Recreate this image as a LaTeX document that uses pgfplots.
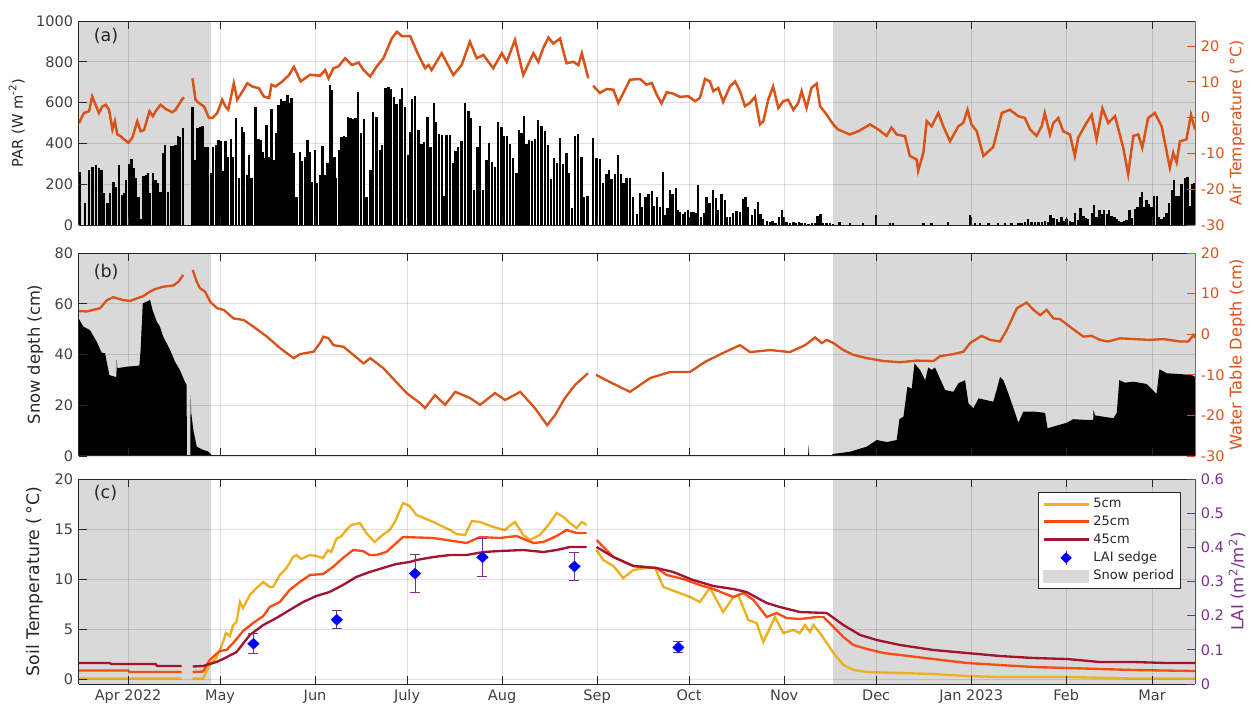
\documentclass[border=0pt]{standalone}
\usepackage{fontspec}
\setmainfont{DejaVu Sans}
\usepackage{pgfplots}
\pgfplotsset{compat=1.18}
\definecolor{snowgray}{RGB}{217,217,217}
\definecolor{mlorange}{RGB}{217,83,25}
\definecolor{axgray}{RGB}{38,38,38}
\definecolor{tickgray}{RGB}{64,64,64}
\definecolor{c5}{RGB}{237,177,32}
\definecolor{c25}{RGB}{250,75,20}
\definecolor{c45}{RGB}{162,20,47}
\definecolor{laipurple}{RGB}{126,47,142}
\pgfplotsset{
  panel/.style={scale only axis, width=669.6pt, xmin=-16, xmax=348,
    xtick={0,30,61,91,122,153,183,214,244,275,306,334},
    tick align=inside, major tick length=5pt,
    /pgf/number format/assume math mode=true,
    /pgf/number format/1000 sep={},
    ticklabel style={font=\fontsize{8.7}{10}\selectfont, text=tickgray},
    every tick/.style={axgray, line width=0.5pt},
    axis line style={axgray, line width=0.6pt},
    unbounded coords=jump},
  leftax/.style={panel, axis x line=box, axis y line*=left, xmajorgrids, ymajorgrids,
    grid style={black, opacity=0.12, line width=0.5pt}, axis on top, ylabel near ticks,
    ylabel style={text=axgray}},
  rightax/.style={panel, axis x line=none, axis y line*=right, yticklabel pos=right, ylabel near ticks, ylabel shift=-4pt},
  orangeax/.style={y axis line style={mlorange}, ytick style={mlorange}, yticklabel style={text=mlorange}, ylabel style={text=mlorange}},
}
\begin{document}
\begin{tikzpicture}
\useasboundingbox (0,0) rectangle (750.6pt,-424.2pt);
% ---------------- panel (a)
\begin{axis}[leftax, at={(47.4pt,-12.6pt)}, anchor=north west, height=122.4pt,
  ymin=0, ymax=1000, ytick={0,200,...,1000}, xticklabels={},
  ylabel={PAR (W m\textsuperscript{-2})}, label style={font=\fontsize{8.8}{10}\selectfont}]
\addplot[fill=snowgray, draw=none] coordinates {(-16,-10) (-16,1010) (27.1,1010) (27.1,-10)} --cycle;
\addplot[fill=snowgray, draw=none] coordinates {(229.9,-10) (229.9,1010) (348,1010) (348,-10)} --cycle;
\addplot[ycomb, black, line width=1.4pt] coordinates {
(-15.6,261) (-14,108) (-12.7,270) (-11.6,286) (-10.5,294) (-9.5,278) (-8.7,270) (-7.8,158) (-6.7,106) (-5.9,155) (-4.8,212) (-4,188) (-2.9,292) (-2,147) (-1.3,155) (-0.6,220) (0.3,297) (1.1,322) (2,278) (2.6,229) (3.4,139) (4.1,28) (5,240) (5.8,245) (6.5,253) (7.2,155) (8.2,257) (9,220) (9.8,204) (10.6,163) (11.3,355) (12.1,390) (13.1,160) (13.9,387) (14.8,387) (15.5,392) (16.3,436) (17,430) (17.9,474)
(21,580) (21.8,319) (22.6,474) (23.4,482) (24.3,487) (25.1,384) (25.9,380) (27,257) (27.8,384) (28.6,392) (29.5,417) (30.3,413) (31.1,267) (31.8,412) (32.6,335) (33.5,420) (34.2,335) (35.1,523) (36.2,229) (37.1,482) (37.8,457) (38.7,245) (39.5,345) (40.3,229) (41.6,580) (42.5,420) (43.3,417) (44,359) (44.6,327) (45.2,490) (46,335) (46.8,569) (47.6,319) (48.4,449) (49.1,588) (49.8,616) (50.5,608) (51.2,610) (52,637) (52.6,596) (53.3,625) (54.1,351) (54.9,139) (56,359) (56.8,314) (57.7,335) (58.5,417) (59.2,359) (60.1,212) (61,367) (61.7,204) (62.5,245) (63.4,387) (64.2,245) (65,306) (65.8,686) (66.6,662) (67.3,335) (67.9,232) (68.8,367) (69.6,433) (70.4,436) (71.1,433) (71.8,528) (72.6,523) (73.4,518) (74.2,523) (75,653)
(76,450) (77,518) (77.8,139) (79.1,270) (80,556) (81,528) (82.2,368) (82.9,391) (84,670) (84.9,675) (85.7,665) (86.8,626) (87.6,593) (88.7,616) (89.4,670) (90.3,580) (91.2,343) (92,455) (92.7,616) (93.6,632) (94.7,466) (95.7,397) (96.6,409) (97.7,528) (98.7,381) (99.8,596) (100.5,507) (101.5,446) (102.3,441) (103.1,142) (103.9,441) (105,441) (106.1,302) (106.8,364) (107.7,381) (108.8,413) (109.9,600) (111,560) (111.8,523) (112.9,172) (114,381) (114.8,485) (115.8,172) (116.9,319) (117.8,404) (118.6,311) (119.7,283) (120.7,507) (121.8,482) (122.7,436) (123.5,436) (124.5,397) (125.6,327) (126.7,257) (127.5,466) (128.3,453) (129.1,535) (130,397) (130.7,417) (131.8,413) (132.7,420) (133.8,515) (134.9,485) (136,462) (137,392) (137.9,225) (138.9,327) (139.8,306) (140.8,425) (141.9,300) (143,353) (143.8,257) (144.9,82) (145.7,436) (146.8,446) (147.9,335) (148.8,135) (149.9,142)
(151.7,425) (152.8,327) (153.9,322) (155,206) (156.1,251) (156.8,270) (157.7,226) (158.8,251) (159.9,343) (160.7,251) (161.6,206) (162.6,232) (163.7,232) (164.8,139) (165.9,54) (167,155) (167.7,90) (168.8,139) (169.7,150) (170.8,167) (171.5,93) (172.6,139) (173.5,90) (174.4,261) (175.1,49) (176,82) (176.7,172) (177.6,152) (178.7,180) (179.3,74) (180,65) (180.9,54) (181.6,65) (182.7,74) (183.6,65) (184.4,65) (185.1,60) (186,196) (186.9,41) (187.8,57) (188.7,136) (189.6,106) (190.7,172) (191.7,131) (192.5,74) (193.6,150) (194.7,123) (195.4,41) (196.3,41) (197.4,60) (198.5,70) (199.6,65) (200.7,126) (201.4,139) (202.3,90) (203.4,49) (204.5,77) (205.5,114) (206.3,54) (207.2,28) (208.3,21) (209.4,16) (210.2,21) (211.2,11) (212.3,41) (213.2,74) (214,41) (214.8,16) (215.9,11) (217,16) (217.8,8) (218.8,16) (219.7,8) (220.8,8) (221.9,5) (223,8) (224,8) (224.9,44) (225.9,54) (226.7,11) (227.8,8) (228.9,8) (230,5) (232,16) (235.4,8) (239.8,8) (243.9,49) (248.5,8) (249.6,8)
(259.4,8) (262.1,8) (267.5,13) (274.6,49) (276.2,8) (277.9,8) (280.6,8) (283.8,8) (286,8) (288.2,8) (290.4,11) (291.4,11) (292.5,16) (293.6,28) (294.7,16) (295.8,13) (296.9,16) (298,13) (299,20) (300.1,16) (300.9,49) (301.8,33) (302.9,28) (303.6,16) (304.5,41) (305.4,21) (306.1,28) (307.2,21) (308,16) (308.8,60) (309.9,25) (310.7,82) (311.6,44) (312.4,33) (313.2,28) (314.3,57) (315,98) (315.9,41) (316.8,74) (317.5,54) (318.3,74) (319.2,54) (319.9,74) (320.8,46) (321.7,41) (322.4,28) (323.3,21) (324,16) (324.9,21) (325.7,25) (326.6,74) (327.3,33) (328.4,77) (329.2,90) (330,139) (330.8,163) (331.4,90) (332.2,123) (333,103) (333.8,90) (334.7,144) (335.5,144) (336.2,38) (337.1,28) (338,41) (338.7,60) (339.5,110) (340.4,172) (341.2,221) (342,142) (342.7,142) (343.6,201) (344.7,229) (345.6,234) (346.3,93) (347.1,201) (347.7,204)
};
\node[anchor=west, font=\fontsize{10.5}{12}\selectfont, text=axgray] at (rel axis cs:0.008,0.926) {(a)};
\end{axis}
\begin{axis}[rightax, orangeax, at={(47.4pt,-12.6pt)}, anchor=north west, height=122.4pt,
  ymin=-30, ymax=27, ytick={-30,-20,...,20}, ylabel={Air Temperature (\,°C)},
  label style={font=\fontsize{9.4}{11}\selectfont}]
\addplot[mlorange, line width=1.5pt] coordinates {
(-16,-1.5) (-14.4,1.3) (-12.7,1.8) (-11.7,5.9) (-10.6,3.6) (-9.5,1.3) (-8.4,3.1) (-7.3,3.6) (-6.2,2.2) (-5.1,-3.3) (-4.3,-1) (-3.5,-4.7) (-2.4,-5.2) (-1.3,-6.1) (0.1,-7) (1.4,-5.6) (3,-1) (4.1,-3.8) (5.2,-3.5) (7,1.8) (8.1,0.4) (9,1.8) (10.6,3.6) (12.3,2.4) (14.4,1.5) (15.5,2.2) (17.7,5.2) (18.3,5.6) (19.5,nan)
(21,11) (22,5) (23.1,4.1) (24.8,3.1) (26.4,-0.1) (27.5,-0.1) (29.1,1.3) (30.7,5) (31.8,3.1) (32.7,2.2) (34.5,9.6) (35.6,5) (37.3,7.3) (38.9,9.6) (40.5,8.7) (42.7,8.2) (44.3,5.9) (46,5.5) (46.8,9.2) (48.1,8.7) (50.3,10.1) (52.5,11.9) (54.1,14.2) (56.3,10.1) (59.4,12) (62.6,11.7) (64.3,13.3) (65.4,11) (67,13.8) (68.6,14.3) (70.8,16.6) (73,14.7) (75.2,15.4) (76.8,13.3) (79,11.5) (81.1,14.3) (83.3,16.6) (86,22.1) (87.7,24) (89.3,22.8) (92,22.8) (94.7,17.5) (96.9,13.8) (98,14.7) (99,13.3) (102.3,18) (106.1,11.9) (108.8,14.7) (111.5,21.2) (113.7,16.6) (115.9,17.5) (119.1,13.8) (121.9,18) (123.5,15.6) (126.2,21.7) (128.9,11.9) (132.2,18) (133.8,15.6) (135.4,19.4) (137.1,22.4) (138.7,20.7) (140.9,22.1) (143,15.2) (145.2,15.6) (146.9,14.7) (148,18) (149,14.7) (150.1,11) (150.9,nan)
(151.7,8.9) (153.9,6.9) (156.1,8) (158.3,7.8) (159.9,4.1) (163.7,10.6) (167,10.8) (169.1,9.2) (170.8,9.7) (172.4,6.5) (174,4) (175.7,7.1) (177.8,6.7) (180,5.8) (182.7,6) (184.9,4.6) (186.5,5.5) (188.2,10.8) (189.8,10.1) (190.9,7.4) (192.5,8.3) (194.1,4.4) (196.3,8.7) (198,10.1) (199.6,7.4) (201.2,3.2) (202.8,4.1) (204.5,5.8) (206.1,-1.9) (207.2,-1) (208.8,5) (210.4,8.7) (212.1,2.7) (213.7,4.6) (215.3,5) (217,2.2) (218.6,4.1) (219.7,7.4) (221.3,2.7) (222.9,8.3) (224.6,9.5) (225.7,3.2) (227.8,0.9) (230,-1.9) (231.6,-3.3) (235.4,-4.7) (238.2,-3.8) (242,-1.9) (244.7,-3.3) (247.4,-5.1) (249,-2.8) (250.7,-4.7) (253.4,-5.2) (255,-10.7) (257.2,-11.7) (257.7,-14.9) (259.4,-9.8) (260.5,-1) (262.1,-2.4) (264.3,1.3) (265.9,-2.4) (268.1,-6.6) (270.8,-2.4) (272.4,-1.5) (273.8,2.2) (275.1,-1.9) (276.8,-3.8) (279,-10.7) (282.2,-8.2) (285,1.3) (287.6,2.2) (290.4,0.4) (292.5,-0.1) (294.2,-3.3) (296.3,-5.1) (298,-2.4) (299,1.3) (300.7,-4.7) (301.8,-1.5) (303.4,-0.1) (305,-3.8) (307.2,-4.7) (308.8,-10.7) (309.9,-5.6) (312.6,-1.5) (314.3,0.8) (315.9,-6.1) (317.8,2.6) (319.7,-1.5) (321.9,0.4) (324.6,-8.4) (326.2,-15.8) (327.9,-5.1) (329.5,-4.7) (330.8,-8.4) (332.7,-0.1) (334.9,1.3) (337.1,-2.4) (339.8,-14) (340.9,-9.8) (342,-12.5) (343.1,-6.6) (345.2,-6.1) (346.7,0.8) (348,-3.3)
};
\end{axis}
% ---------------- panel (b)
\begin{axis}[leftax, at={(47.4pt,-151.8pt)}, anchor=north west, height=121.8pt,
  ymin=0, ymax=80, ytick={0,20,...,80}, xticklabels={},
  ylabel={Snow depth (cm)}, label style={font=\fontsize{9.8}{11}\selectfont}]
\addplot[fill=snowgray, draw=none] coordinates {(-16,-10) (-16,90) (27.1,90) (27.1,-10)} --cycle;
\addplot[fill=snowgray, draw=none] coordinates {(229.9,-10) (229.9,90) (348,90) (348,-10)} --cycle;
\addplot[fill=black, draw=none] coordinates {
(-16,0) (-16,54) (-14.6,51) (-12.4,49.6) (-10.2,45) (-8.6,40.7) (-7.5,40.5) (-6.1,31.9) (-4.2,31.2) (-3.8,31.2) (-3.7,38) (-3.5,34.6) (-0.4,35.2) (2.8,35.5) (3.7,35.7) (4.1,41.8) (4.8,60.2) (6.1,60.8) (7.2,61.5) (8,57.5) (9.4,52.9) (10.4,51) (11.5,47) (13.7,41.8) (15.3,37.2) (16.9,33.9) (18.3,29.9) (19.1,28) (19.2,0) (20.3,0) (20.4,24) (20.6,17) (21.3,10.2) (22.4,3.7) (24.5,2.4) (26.1,1.8) (27.2,0.5) (27.4,0) (221.8,0) (222,4.3) (222.2,0) (229,0) (230,0.8) (235.5,1.7) (241,3.7) (244.2,6.3) (247.5,5.5) (250.7,6.3) (251.6,14.5) (252.9,15.5) (254.2,27.3) (255.6,26.5) (256.5,36.5) (258.3,33.9) (260,29.9) (261,34.9) (262.1,33.9) (263.2,34.9) (264.3,31.9) (266.5,26) (269.2,25.3) (270.8,28.6) (273,29.9) (274.1,20.8) (275.7,18.8) (277.4,22.7) (280,22) (282.2,21.4) (283.3,26) (284.4,31.2) (285.5,29.9) (287.1,24.7) (288.8,18.8) (290.4,13.1) (292,17.5) (295.3,17.5) (299.1,17) (299.9,10.9) (301.8,11.6) (306.2,13.1) (308.3,14.5) (312.7,14.2) (314.8,14.2) (314.9,18.1) (315.4,16) (318.1,15.5) (321.4,14.9) (322.5,17) (323.3,29.9) (325.2,28.9) (327.9,29.3) (332.2,28.4) (335.3,24.7) (335.5,24.7) (336.4,34.2) (338.8,32.6) (343.1,32.3) (346.9,31.9) (348,31.2) (348,0)
} --cycle;
\node[anchor=west, font=\fontsize{10.5}{12}\selectfont, text=axgray] at (rel axis cs:0.008,0.908) {(b)};
\end{axis}
\begin{axis}[rightax, orangeax, at={(47.4pt,-151.8pt)}, anchor=north west, height=121.8pt,
  ymin=-30, ymax=20, ytick={-30,-20,...,20}, ylabel={Water Table Depth (cm)},
  label style={font=\fontsize{9.7}{11}\selectfont}]
\addplot[mlorange, line width=1.4pt] coordinates {
(-16,5.7) (-13.5,5.6) (-9.1,6.4) (-6.9,8.4) (-4.8,9.1) (-1.5,8.4) (0.7,8.2) (2.8,8.8) (5,9.4) (7.2,10.5) (8.8,11.1) (11.5,11.7) (14.8,12) (16.4,12.9) (18,14.6) (19.5,nan)
(21.1,15.8) (22.4,12.9) (23.5,11.3) (25.1,10.5) (26.8,8) (29,6.4) (31.2,6) (34.4,3.9) (37.7,3.5) (41,1.8) (45.3,-0.6) (49.7,-3.5) (54,-5.9) (56.1,-4.9) (60.5,-4.3) (62.6,-2.2) (63.7,-0.6) (65.4,-1.0) (67,-2.7) (70.3,-3.1) (73.5,-5.1) (76.8,-7.2) (79,-5.9) (83.3,-8.4) (91,-14.6) (95.3,-17) (96.9,-18.2) (100.1,-15) (103.4,-17.4) (106.7,-14.2) (111.5,-15.7) (114.8,-17.4) (119.7,-14.5) (123,-16.2) (127.9,-14.2) (132.7,-18.2) (136.7,-22.4) (139.3,-19.9) (142.5,-15.7) (145.8,-12.5) (150,-9.6) (151,nan)
(152.6,-10) (157.2,-11.8) (163.7,-14.2) (170.3,-10.8) (176.8,-9.3) (183.3,-9.3) (188.2,-6.8) (194.7,-4.4) (199.6,-2.7) (202.9,-4.4) (209.4,-3.9) (215.9,-4.4) (220.8,-2.7) (224.1,-0.8) (226.3,-2.2) (227.9,-1.4) (230.1,-2.2) (233.3,-3.9) (236.6,-5.1) (241,-5.9) (246.4,-6.6) (251.8,-6.9) (257.2,-6.5) (262.7,-6.6) (264.9,-5.4) (269.2,-4.9) (272.5,-4.3) (274.6,-2.2) (278.4,-0.4) (281.2,-1.4) (284.4,-1.8) (286.6,1) (289.9,6.4) (293.1,7.8) (295.3,6) (297.5,4.7) (299.6,6) (301.8,3.9) (304,3.7) (308.3,1.2) (311.6,-0.6) (314.3,-0.4) (317,-1.4) (319.7,-1.8) (323.5,-1) (327.9,-1.2) (333.3,-1.4) (337.7,-1.2) (343.1,-1.8) (345.8,-1.8) (347.5,-0.2) (348,-0.8)
};
\end{axis}
% ---------------- panel (c)
\begin{axis}[leftax, at={(47.4pt,-287.4pt)}, anchor=north west, height=123pt,
  ymin=-0.5, ymax=20, ytick={0,5,...,20},
  xticklabels={Apr 2022, May, Jun, July, Aug, Sep, Oct, Nov, Dec, Jan 2023, Feb, Mar},
  ylabel={Soil Temperature (\,°C)}, label style={font=\fontsize{10.4}{12}\selectfont}]
\addplot[fill=snowgray, draw=none] coordinates {(-16,-1) (-16,21) (27.1,21) (27.1,-1)} --cycle;
\addplot[fill=snowgray, draw=none] coordinates {(229.9,-1) (229.9,21) (348,21) (348,-1)} --cycle;
\addplot[c5, line width=1.4pt] coordinates {
(-16,0.05) (17.5,0.05) (19,nan) (21.1,0.05) (24.5,0.05) (26.6,1.4) (28.8,2.1) (31,3.7) (31.9,4.6) (33.2,4.3) (34.3,5.4) (35.4,5.7) (36.5,7.7) (37.5,7.1) (39.7,8.4) (41.9,9.1) (44.1,9.7) (46.2,9.2) (47.3,9.2) (49.5,10.4) (51.7,11.1) (53.8,12.2) (54.9,12.4) (56.5,12) (59.3,12.4) (61.4,12.3) (63.6,12.1) (65.2,12.9) (66.3,12.7) (67.9,14) (69.6,14.3) (71.2,14.9) (72.8,15.4) (75.6,15.6) (77.7,14.6) (80.4,13.7) (82.6,14.3) (85.3,14.9) (87,15.7) (89.7,17.6) (91.8,17.3) (94.1,16.4) (99.6,15.7) (105,14.9) (107.2,14.5) (109.9,14.4) (112.1,15.8) (114.8,15.7) (119.1,15.2) (122.9,14.9) (124,15.2) (126.2,15.7) (128.9,14.4) (131.1,13.9) (134.3,14.4) (137.1,15.4) (139.8,16.6) (142,16.2) (144.1,15.6) (146.3,15.1) (148,15.7) (149.6,15.4) (151,nan) (152.8,12.9) (155,11.9) (158.3,11.3) (161.5,10.1) (164.8,10.9) (169.1,11.1) (171.9,11.1) (174.6,9.2) (179,8.7) (183.3,8.2) (186.5,7.7) (189.8,9.1) (194.1,6.7) (197.4,8.2) (199,8.4) (202.3,5.9) (205,5.6) (207.2,3.7) (211,6.2) (213.7,4.6) (217,4.9) (219.1,4.6) (220.8,5.4) (222.4,4.7) (223.5,5.4) (225.7,4.6) (227.9,3.6) (230.1,2.6) (233.3,1.4) (236.6,0.9) (241,0.7) (251.8,0.6) (262.7,0.5) (273.6,0.3) (284.4,0.2) (306.2,0.2) (327.9,0.05) (348,0.05)
};
\addplot[c25, line width=1.4pt] coordinates {
(-16,0.85) (0,0.85) (0.5,0.7) (17.5,0.7) (19,nan) (21.1,0.7) (24.5,0.75) (26.6,1.9) (29.9,2.8) (32.1,2.9) (34.3,3.6) (37.5,4.8) (40.8,5.6) (44.1,6.3) (46.2,7.2) (49.5,7.7) (52.7,8.9) (56,9.7) (59.3,10.4) (63.6,10.5) (66.8,11.2) (70.1,12.1) (73.4,12.9) (76.6,12.8) (78.8,12.4) (81,12.4) (84.2,12.7) (87.5,13.6) (89.7,14.2) (99.6,14.1) (110.4,13.6) (114.8,14.2) (121.3,14.1) (126.7,14.3) (132.2,13.6) (135.4,13.7) (139.8,14.3) (143,14.9) (146.3,14.6) (149.6,14.6) (151,nan) (152.8,13.9) (158.3,12.2) (164.8,11.3) (172.4,11.1) (175.7,10.4) (181.1,10) (186.5,9.4) (190.9,9) (197.4,8.2) (200.7,8.6) (204,7.9) (208.3,6.2) (211.5,6.6) (214.8,6.1) (219.1,6) (224.6,6.2) (226.8,6.2) (230.1,5.2) (233.3,4.2) (236.6,3.4) (241,3) (246.4,2.6) (251.8,2.4) (262.7,2) (273.6,1.6) (284.4,1.4) (295.3,1.2) (306.2,1.1) (317,1) (327.9,0.9) (348,0.8)
};
\addplot[c45, line width=1.4pt] coordinates {
(-16,1.6) (-6,1.6) (-5.5,1.5) (9,1.5) (9.5,1.3) (17.5,1.3) (19,nan) (21.1,1.25) (24.5,1.3) (28.8,1.7) (31,2) (35.4,2.7) (39.7,4.4) (44.1,5.4) (48.4,6.1) (52.7,6.9) (57.1,7.7) (61.4,8.3) (65.7,8.7) (70.1,9.4) (74.4,10.2) (78.8,10.7) (83.1,11.1) (87.5,11.5) (91.8,11.7) (94.1,11.9) (99.6,12.2) (105,12.4) (110.4,12.4) (115.9,12.7) (121.3,12.8) (128.9,12.9) (135.4,12.7) (139.8,12.9) (144.1,13.2) (149.6,13.2) (151,nan) (152.8,13.2) (158.3,12.2) (164.8,11.3) (172.4,11.1) (177.8,10.7) (184.3,9.9) (190.9,9.3) (197.4,9) (201.7,8.7) (208.3,7.6) (212.6,7.2) (219.1,6.7) (227.9,6.6) (233.3,5.4) (238.8,4.4) (244.2,3.9) (251.8,3.4) (262.7,2.9) (273.6,2.6) (284.4,2.3) (295.3,2.1) (306.2,2) (317,1.7) (327.9,1.7) (338.8,1.6) (348,1.6)
};
\node[anchor=west, font=\fontsize{10.5}{12}\selectfont, text=axgray] at (rel axis cs:0.008,0.932) {(c)};
\end{axis}
\begin{axis}[rightax, at={(47.4pt,-287.4pt)}, anchor=north west, height=123pt,
  ymin=0, ymax=0.6, ytick={0,0.1,0.2,0.3,0.4,0.5,0.6},
  y axis line style={laipurple}, ytick style={laipurple}, yticklabel style={text=laipurple},
  ylabel style={text=laipurple}, ylabel={LAI (m\textsuperscript{2}/m\textsuperscript{2})},
  label style={font=\fontsize{10}{12}\selectfont},
  legend style={at={(0.9875,0.937)}, anchor=north east, font=\fontsize{7.8}{9}\selectfont,
    draw=axgray, fill=white, inner xsep=2pt, inner ysep=1.5pt, row sep=-0.5pt, text=axgray},
  legend cell align=left,
  legend image code/.code={\draw[#1] (0pt,0pt) -- (27pt,0pt);}]
\addlegendimage{c5, line width=1.8pt}
\addlegendentry{5cm}
\addlegendimage{c25, line width=1.8pt}
\addlegendentry{25cm}
\addlegendimage{c45, line width=1.8pt}
\addlegendentry{45cm}
\addplot[legend image code/.code={\draw[laipurple, line width=0.6pt] (13.5pt,-4pt) -- (13.5pt,4pt); \path[draw=blue, fill=blue] plot[mark=diamond*, mark size=3pt, mark options={xscale=1.4}, only marks] coordinates {(13.5pt,0pt)};},
  only marks, mark=diamond*, mark size=3.2pt, blue, mark options={fill=blue, draw=blue, xscale=1.4},
  error bars/.cd, y dir=both, y explicit, error bar style={laipurple, line width=0.6pt},
  error mark options={rotate=90, mark size=3pt, laipurple, line width=0.6pt}]
coordinates {(40.9,0.118) +- (0,0.03) (68.1,0.188) +- (0,0.026) (93.6,0.323) +- (0,0.055) (115.6,0.371) +- (0,0.056) (145.6,0.344) +- (0,0.042) (179.5,0.107) +- (0,0.016)};
\addlegendentry{LAI sedge}
\addlegendimage{legend image code/.code={\fill[snowgray] (0pt,-3.5pt) rectangle (27pt,3.5pt);}}
\addlegendentry{Snow period}
\end{axis}
\end{tikzpicture}
\end{document}
